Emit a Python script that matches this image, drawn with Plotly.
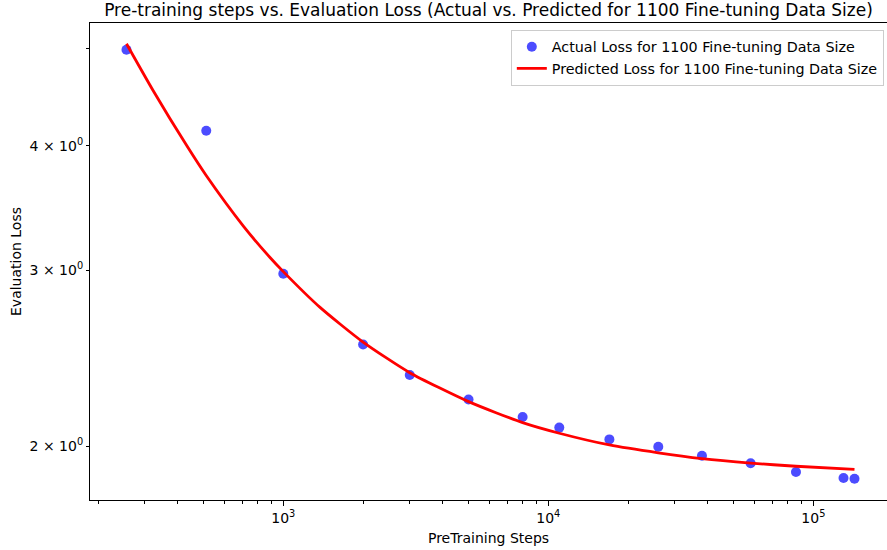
import plotly.graph_objects as go

# ---- data ----
steps = [256, 512, 1000, 2000, 3000, 5000, 8000, 11000, 17000, 26000, 38000, 58000, 86000, 130000, 143000]
actual_loss = [4.99, 4.14, 2.976, 2.528, 2.356, 2.227, 2.139, 2.087, 2.031, 1.997, 1.956, 1.922, 1.884, 1.858, 1.855]

curve_steps = [256, 323, 432, 511, 708, 891, 1000, 1376, 2000, 3000, 5000, 8000, 11000, 17000, 26000, 38000, 58000, 86000, 143000]
curve_loss = [5.06, 4.54, 4.00, 3.735, 3.32, 3.09, 2.991, 2.754, 2.542, 2.369, 2.216, 2.111, 2.060, 2.005, 1.969, 1.943, 1.923, 1.909, 1.895]

x_tickvals = [1000, 10000, 100000]
x_ticktext = ["10<sup>3</sup>", "10<sup>4</sup>", "10<sup>5</sup>"]
x_minor = [200, 300, 400, 500, 600, 700, 800, 900,
           2000, 3000, 4000, 5000, 6000, 7000, 8000, 9000,
           20000, 30000, 40000, 50000, 60000, 70000, 80000, 90000]
y_tickvals = [2, 3, 4, 5]
y_ticktext = ["2 × 10<sup>0</sup>", "3 × 10<sup>0</sup>", "4 × 10<sup>0</sup>", ""]

FONT = "DejaVu Sans"

fig = go.Figure()
fig.add_trace(go.Scatter(
    x=steps, y=actual_loss, mode="markers",
    name="Actual Loss for 1100 Fine-tuning Data Size",
    marker=dict(size=10, color="rgba(0,0,255,0.7)", line=dict(width=0)),
))
fig.add_trace(go.Scatter(
    x=curve_steps, y=curve_loss, mode="lines", line_shape="spline",
    name="Predicted Loss for 1100 Fine-tuning Data Size",
    line=dict(color="red", width=2.8, smoothing=0.6),
))

fig.update_layout(
    width=887, height=550,
    margin=dict(l=90, r=0, t=23, b=50),
    paper_bgcolor="white", plot_bgcolor="white",
    font=dict(family=FONT, size=14, color="black"),
    title=dict(text="Pre-training steps vs. Evaluation Loss (Actual vs. Predicted for 1100 Fine-tuning Data Size)",
               x=0.5, xref="paper", xanchor="center",
               y=1 - 10 / 550, yref="container", yanchor="middle",
               font=dict(family=FONT, size=17, color="black")),
    legend=dict(x=0.528, xanchor="left", y=0.9853, yanchor="top",
                bgcolor="rgba(255,255,255,0.8)", bordercolor="#cccccc", borderwidth=1,
                font=dict(family=FONT, size=14.3), tracegroupgap=0),
    showlegend=True,
)

fig.update_xaxes(
    type="log", range=[2.2706, 5.278], automargin=False,
    showgrid=False, zeroline=False,
    showline=True, linecolor="black", linewidth=1.1, mirror=True,
    tickmode="array", tickvals=x_tickvals, ticktext=x_ticktext,
    ticks="outside", ticklen=5, tickwidth=1.1, tickcolor="black",
    tickfont=dict(family=FONT, size=14),
    minor=dict(tickmode="array", tickvals=x_minor, ticks="outside", ticklen=3,
               tickwidth=0.8, tickcolor="black", showgrid=False),
    title=dict(text="PreTraining Steps", font=dict(family=FONT, size=14), standoff=8),
)
fig.update_yaxes(
    type="log", range=[0.2470, 0.7249], automargin=False,
    showgrid=False, zeroline=False,
    showline=True, linecolor="black", linewidth=1.1, mirror=False,
    tickmode="array", tickvals=y_tickvals, ticktext=y_ticktext,
    ticks="outside", ticklen=3, tickwidth=0.8, tickcolor="black",
    tickfont=dict(family=FONT, size=14),
    title=dict(text="Evaluation Loss", font=dict(family=FONT, size=14), standoff=4),
)

fig.write_html("out.html", config={"displayModeBar": False},
               post_script="document.body.style.margin='0px';document.body.style.padding='0px';")
